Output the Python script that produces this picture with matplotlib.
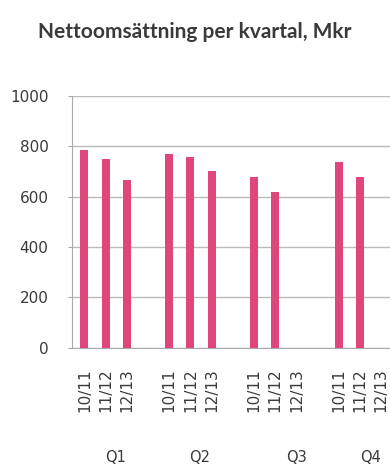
import numpy as np
import matplotlib.pyplot as plt

# values (Mkr)
quarters = ["Q1", "Q2", "Q3", "Q4"]
years = ["10/11", "11/12", "12/13"]
q1 = [785, 750, 665]
q2 = [770, 756, 703]
q3 = [677, 619, np.nan]
q4 = [737, 678, np.nan]
series = [q1, q2, q3, q4]

bar_color = "#e0457c"
text_color = "#3a3a3a"

fig = plt.figure(figsize=(3.9, 4.66), dpi=100)
ax = fig.add_axes([0.185, 0.254, 0.815, 0.54])

pos = []
vals = []
labels = []
for g, s in enumerate(series):
    for i, v in enumerate(s):
        pos.append(g * 4 + i)
        vals.append(v)
        labels.append(years[i])

ax.bar(pos, vals, width=0.38, color=bar_color, zorder=3)

ax.set_ylim(0, 1000)
ax.set_yticks(np.arange(0, 1001, 200))
ax.set_xlim(-0.58, 14.42)
ax.set_xticks(pos)
ax.set_xticklabels(labels, rotation=90, fontsize=11, color=text_color,
                   family="DejaVu Sans")
ax.tick_params(axis="x", length=0, pad=15)
ax.tick_params(axis="y", length=3, color="#aaaaaa", labelsize=11,
               labelcolor=text_color, pad=14)
for lab in ax.get_yticklabels():
    lab.set_family("DejaVu Sans")

ax.grid(axis="y", color="#bbbbbb", linewidth=1, zorder=0)
for side in ["top", "right"]:
    ax.spines[side].set_visible(False)
ax.spines["left"].set_color("#aaaaaa")
ax.spines["bottom"].set_color("#aaaaaa")

# quarter labels under each group
q_pos = [1.45, 5.45, 10.0, 13.5]
for x, q in zip(q_pos, quarters):
    ax.text(x, -0.435, q, transform=ax.get_xaxis_transform(), ha="center",
            va="center", fontsize=10.5, color=text_color, family="DejaVu Sans")

fig.text(0.5, 0.931, "Nettoomsättning per kvartal, Mkr", ha="center",
         va="center", fontsize=15, fontweight="bold", color=text_color,
         family="Lato")

fig.savefig("out.png", dpi=100)
